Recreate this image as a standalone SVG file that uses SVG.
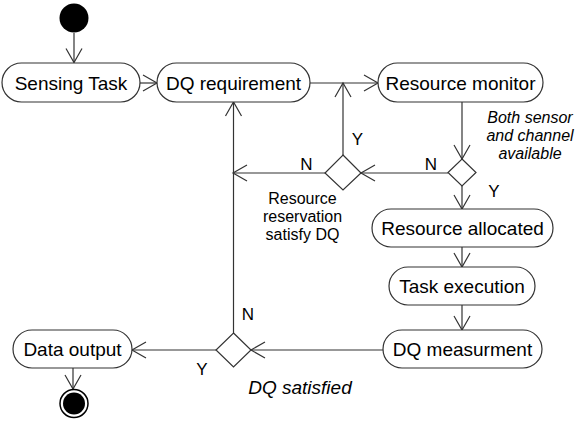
<svg xmlns="http://www.w3.org/2000/svg" width="576" height="421" viewBox="0 0 576 421">
<defs>
<style>
.node{fill:#fff;stroke:#333;stroke-width:1.2}
.t{font-family:"Liberation Sans",Arial,sans-serif;font-size:19px;fill:#000;text-anchor:middle}
.lbl{font-family:"Liberation Sans",Arial,sans-serif;font-size:17px;fill:#000;text-anchor:middle}
.note{font-family:"Liberation Sans",Arial,sans-serif;font-size:16px;fill:#000;text-anchor:middle}
.it{font-style:italic}
.c{fill:none;stroke:#333;stroke-width:1.2;marker-end:url(#arr)}
.cn{fill:none;stroke:#333;stroke-width:1.2}
.dia{fill:#fff;stroke:#333;stroke-width:1.2}
</style>
<marker id="arr" markerUnits="userSpaceOnUse" viewBox="-16 -10 18 20" markerWidth="18" markerHeight="20" refX="0" refY="0" orient="auto">
<path d="M-14,-8 L0,0 L-14,8" fill="none" stroke="#333" stroke-width="1.2"/>
</marker>
</defs>
<rect width="576" height="421" fill="#fff"/>
<g id="connectors">
<path class="c" d="M74,33 L74,62.5"/>
<path class="c" d="M140,83 L157,83"/>
<path class="c" d="M310,83 L378,83"/>
<path class="c" d="M462,102 L462,159"/>
<path class="c" d="M448,173 L361,173"/>
<path class="c" d="M343,155 L343,83"/>
<path class="c" d="M325,173 L233,173"/>
<path class="c" d="M233.5,333 L233.5,102"/>
<path class="c" d="M462,186 L462,209"/>
<path class="c" d="M462,247 L462,267"/>
<path class="c" d="M462,305 L462,330"/>
<path class="c" d="M383,350 L251,350"/>
<path class="c" d="M216,350 L132,350"/>
<path class="c" d="M73,368 L73,389"/>
</g>
<g id="start"><circle cx="74" cy="18" r="14.5" fill="#000"/></g>
<g id="sensing-task"><rect class="node" x="2" y="63" width="138" height="39" rx="19.5"/><text class="t" x="71" y="89.5">Sensing Task</text></g>
<g id="dq-requirement"><rect class="node" x="157" y="63" width="153" height="39" rx="19.5"/><text class="t" x="233.5" y="89.5">DQ requirement</text></g>
<g id="resource-monitor"><rect class="node" x="378" y="63" width="165" height="39" rx="19.5"/><text class="t" x="460.5" y="89.5">Resource monitor</text></g>
<g id="decision-available">
<polygon class="dia" points="462,159 476,172.5 462,186 448,172.5"/>
<text class="note it" x="530" y="123">Both sensor</text>
<text class="note it" x="530" y="141">and channel</text>
<text class="note it" x="530" y="159">available</text>
<text class="lbl" x="431" y="170">N</text>
<text class="lbl" x="494" y="197">Y</text>
</g>
<g id="decision-reservation">
<polygon class="dia" points="343,155 361,173 343,190 325,173"/>
<text class="note" x="302.5" y="204">Resource</text>
<text class="note" x="302.5" y="222">reservation</text>
<text class="note" x="302.5" y="240">satisfy DQ</text>
<text class="lbl" x="306.5" y="170">N</text>
<text class="lbl" x="357.5" y="145">Y</text>
</g>
<g id="resource-allocated"><rect class="node" x="372" y="209" width="181" height="38" rx="19"/><text class="t" x="462.5" y="234.5">Resource allocated</text></g>
<g id="task-execution"><rect class="node" x="389" y="267" width="146" height="38" rx="19"/><text class="t" x="462" y="292.5">Task execution</text></g>
<g id="dq-measurment"><rect class="node" x="383" y="330" width="159" height="38" rx="19"/><text class="t" x="462.5" y="355.5">DQ measurment</text></g>
<g id="decision-dq">
<polygon class="dia" points="233.5,333 251,350 233.5,367 216,350"/>
<text class="t it" x="300" y="394">DQ satisfied</text>
<text class="lbl" x="248" y="320">N</text>
<text class="lbl" x="202" y="375">Y</text>
</g>
<g id="data-output"><rect class="node" x="13" y="330" width="119" height="38" rx="19"/><text class="t" x="72.5" y="355.5">Data output</text></g>
<g id="end"><circle cx="74" cy="403.5" r="14" fill="#fff" stroke="#000" stroke-width="1.5"/><circle cx="74" cy="403.5" r="11" fill="#000"/></g>
</svg>
